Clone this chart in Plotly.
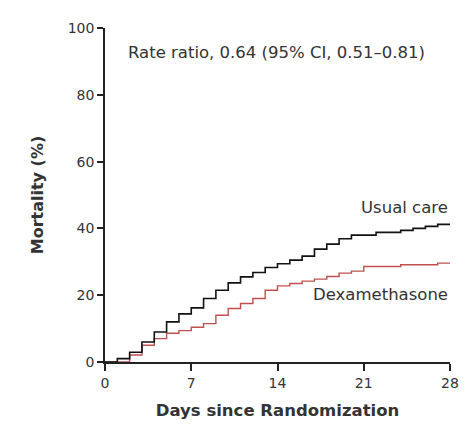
import plotly.graph_objects as go

days = list(range(0, 29))
usual_care = [0, 1.0, 2.9, 6.0, 9.0, 12.0, 14.4, 16.2, 19.0, 21.5, 23.7, 25.5, 26.8, 28.3,
              29.4, 30.5, 31.7, 33.8, 35.3, 36.9, 38.0, 38.0, 38.8, 38.8, 39.4, 40.0, 40.6, 41.2, 41.2]
dexamethasone = [0, 0, 2.1, 5.0, 7.0, 8.6, 9.4, 10.4, 11.5, 14.0, 16.0, 17.5, 19.0, 21.5,
                 22.8, 23.5, 24.2, 24.8, 25.6, 26.6, 27.2, 28.6, 28.6, 28.6, 29.1, 29.1, 29.1, 29.6, 29.6]
x_ticks = [0, 7, 14, 21, 28]
y_ticks = [0, 20, 40, 60, 80, 100]

FONT = "DejaVu Sans, sans-serif"
TXT = "#333333"

fig = go.Figure()
fig.add_trace(go.Scatter(x=days, y=dexamethasone, mode="lines", line_shape="hv",
                         line=dict(color="#c0504d", width=1.4), name="Dexamethasone"))
fig.add_trace(go.Scatter(x=days, y=usual_care, mode="lines", line_shape="hv",
                         line=dict(color="#111111", width=1.6), name="Usual care"))

fig.add_annotation(x=1.7, y=92.8, xref="x", yref="y", text="Rate ratio, 0.64 (95% CI, 0.51–0.81)",
                   showarrow=False, xanchor="left", yanchor="middle",
                   font=dict(family=FONT, size=16.5, color=TXT))
fig.add_annotation(x=28, y=46.2, xref="x", yref="y", text="Usual care",
                   showarrow=False, xanchor="right", yanchor="middle",
                   font=dict(family=FONT, size=16.5, color=TXT))
fig.add_annotation(x=28, y=20.3, xref="x", yref="y", text="Dexamethasone",
                   showarrow=False, xanchor="right", yanchor="middle",
                   font=dict(family=FONT, size=16.5, color=TXT))

fig.update_layout(
    width=475, height=431,
    margin=dict(l=97, r=33, t=12, b=77),
    paper_bgcolor="white", plot_bgcolor="white",
    showlegend=False,
    font=dict(family=FONT, size=14, color=TXT),
)
fig.update_xaxes(range=[0, 28], tickvals=x_ticks, ticks="outside", ticklen=7, tickwidth=1.5,
                 tickcolor="#222222", showline=True, linecolor="#222222", linewidth=1.5,
                 showgrid=False, zeroline=False,
                 tickfont=dict(family=FONT, size=14, color=TXT),
                 title=dict(text="<b>Days since Randomization</b>", standoff=15,
                            font=dict(family=FONT, size=16.5, color=TXT)))
fig.update_yaxes(range=[0, 100], tickvals=y_ticks, ticks="outside", ticklen=6, tickwidth=1.5,
                 tickcolor="#222222", showline=True, linecolor="#222222", linewidth=1.5,
                 showgrid=False, zeroline=False,
                 tickfont=dict(family=FONT, size=14, color=TXT),
                 title=dict(text="<b>Mortality (%)</b>", standoff=20,
                            font=dict(family=FONT, size=16, color=TXT)))

fig.write_html("out.html")
